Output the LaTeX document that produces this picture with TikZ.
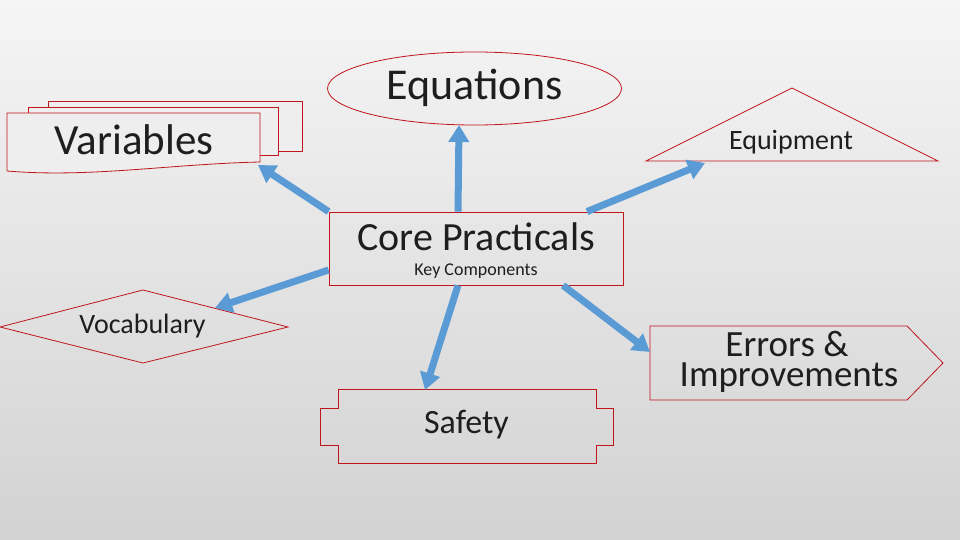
\documentclass[tikz,border=0pt]{standalone}
\usepackage{fontspec}
\setmainfont{Carlito}
\usetikzlibrary{arrows.meta,shapes.geometric}
\definecolor{shapered}{RGB}{192,20,30}
\definecolor{arrowblue}{RGB}{91,155,213}
\definecolor{bgtop}{RGB}{245,245,245}
\definecolor{bgbottom}{RGB}{210,210,210}
\definecolor{textgrey}{RGB}{30,30,30}
\tikzset{>={Triangle[width=20pt,length=17pt]}}
\tikzset{shapeline/.style={draw=shapered, line width=0.8pt}}
\tikzset{bluearrow/.style={->, draw=arrowblue, line width=7pt}}

\begin{document}
\begin{tikzpicture}[x=1pt, y=-1pt, inner sep=0pt, text=textgrey]
  \tikzstyle{every node}=[font=\fontsize{28}{33}\selectfont]
    \tikzstyle{huge text}=[font=\fontsize{44}{52}\selectfont]
    \tikzstyle{mid text}=[font=\fontsize{37}{44}\selectfont]
    \tikzstyle{small text}=[font=\fontsize{18}{21}\selectfont]
    \useasboundingbox (0,0) rectangle (960,540);
    \shade[top color=bgtop, bottom color=bgbottom] (0,0) rectangle (960,540);

    % variables: stacked pages
    \draw[shapeline, fill=bgtop!97!black] (48,101) rectangle (302,151);
    \draw[shapeline, fill=bgtop!97!black] (28,107) rectangle (278,155);
    \draw[shapeline, fill=bgtop!97!black] (7,113) -- (260,113) -- (260,162)
      .. controls (170,164) and (90,178) .. (7,171) -- cycle;
    \coordinate(vartip) at (258,165);
    \node(var) [huge text, font=\fontsize{43}{51}\selectfont, anchor=base] at (134,155) {Variables};

    % equations
    \node(eq) [shapeline, ellipse, minimum width=294pt, minimum height=73pt] at (474.5,88.5) {};
    \node(eqtext) [huge text, anchor=base] at (474.5,100) {Equations};
    \coordinate(eqtip) at (459,125);

    % equipment
    \draw[shapeline] (646,161) -- (792,88) -- (938,161) -- cycle;
    \node(eqp) [anchor=base] at (791,150) {Equipment};
    \coordinate(eqptip) at (705,163);

    % core practicals
    \node(core) [shapeline, rectangle, minimum width=294pt, minimum height=73pt] at (476,248.5) {};
    \node(coretitle) [huge text, font=\fontsize{40}{48}\selectfont, anchor=base] at (476,250) {Core Practicals};
    \node(corekey) [small text, anchor=base] at (476,275) {Key Components};

    % vocabulary
    \draw[shapeline] (0,327) -- (143,290) -- (288,327) -- (143,363) -- cycle;
    \node(voc) [anchor=base] at (142.5,333) {Vocabulary};
    \coordinate(voctip) at (215,308);

    % errors and improvements
    \draw[shapeline] (650,326) -- (907,326) -- (943,363) -- (907,400) -- (650,400) -- cycle;
    \node(errtop) [mid text, anchor=base] at (787,356) {Errors \&};
    \node(errbot) [mid text, anchor=base] at (789,386) {Improvements};
    \coordinate(errtip) at (650,352);

    % safety
    \draw[shapeline] (338,389) -- (596,389) -- (596,408) -- (613,408) -- (613,445)
      -- (596,445) -- (596,463) -- (338,463) -- (338,445) -- (320,445)
      -- (320,408) -- (338,408) -- cycle;
    \node(saf) [font=\fontsize{34}{41}\selectfont, anchor=base] at (466.5,433) {Safety};
    \coordinate(saftip) at (425,390);

    \draw [bluearrow] (core.north west) to (vartip);
    \draw [bluearrow] ([xshift=-18pt]core.north) to (eqtip);
    \draw [bluearrow] ([xshift=111pt]core.north) to (eqptip);
    \draw [bluearrow] ([yshift=-21.5pt]core.west) to (voctip);
    \draw [bluearrow] ([xshift=-18pt]core.south) to (saftip);
    \draw [bluearrow] ([xshift=87pt]core.south) to (errtip);

  \end{tikzpicture}
\end{document}
